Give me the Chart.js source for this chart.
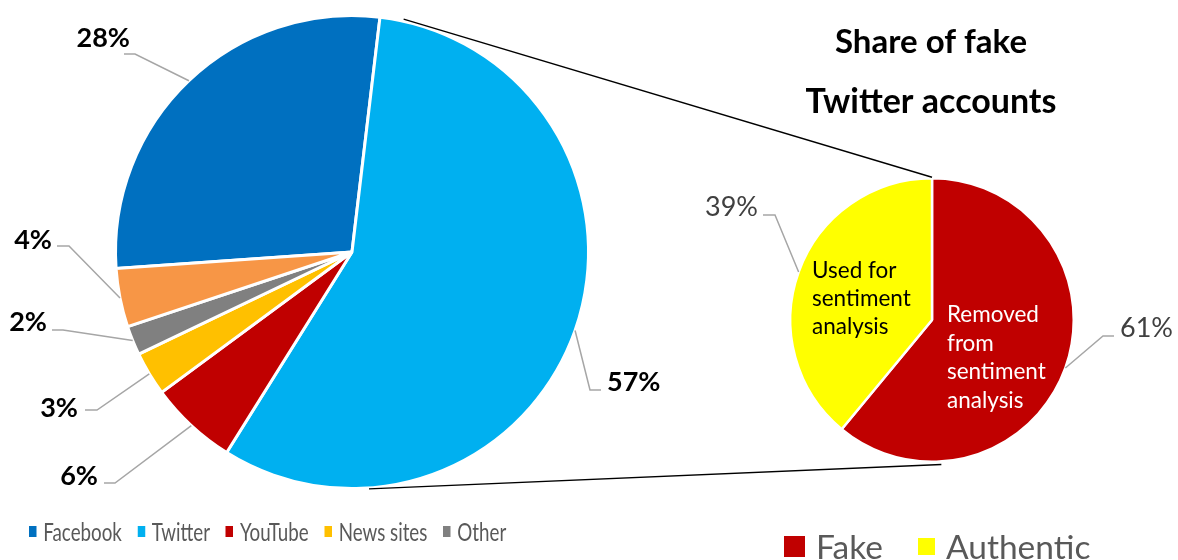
<!DOCTYPE html>
<html>
<head>
<meta charset="utf-8">
<script src="https://cdn.jsdelivr.net/npm/chart.js@4"></script>
<style>
  html, body { margin:0; padding:0; background:#fff; }
  #wrap { position:relative; width:1178px; height:560px; overflow:hidden; font-family:Lato, 'Open Sans', sans-serif; }
  #wrap canvas { position:absolute; left:0; top:0; }
  .legend { position:absolute; display:flex; align-items:center; color:#595959; white-space:nowrap; }
  .legend .sw { display:inline-block; flex:none; }
</style>
</head>
<body>
<div id="wrap">
  <canvas id="chart-platforms" width="1178" height="560"></canvas>
  <canvas id="chart-accounts" width="1178" height="560"></canvas>
  <div class="legend" id="legend-platforms" style="left:29px;top:515px;height:32px;font-size:25px;transform:scaleX(0.75);transform-origin:0 0"></div>
  <div class="legend" id="legend-accounts" style="left:784px;top:528px;height:36px;font-size:33.5px"></div>
</div>
<script>
// ---- data ----
const platforms = ['Facebook', 'Twitter', 'YouTube', 'News sites', 'Other', 'Blogs'];
const platformShare = [28, 57, 6, 3, 2, 4];
const platformColors = ['#0070c0', '#00b0f0', '#c00000', '#ffc000', '#808080', '#f79646'];
const platformLegend = ['Facebook', 'Twitter', 'YouTube', 'News sites', 'Other'];

const accountTypes = ['Fake', 'Authentic'];
const accountShare = [61, 39];
const accountColors = ['#c00000', '#ffff00'];
const accountNotes = [['Removed', 'from', 'sentiment', 'analysis'], ['Used for', 'sentiment', 'analysis']];
const titleLines = ['Share of fake', 'Twitter accounts'];

// ---- label placement (elbow ex/ey, line end hx, text lx/ly) ----
const platformLabelPos = [
  { ex:135, ey:54,  hx:124, lx:130, ly:38,  align:'right' },
  { ex:590, ey:390, hx:601, lx:607, ly:382, align:'left' },
  { ex:115, ey:483, hx:104, lx:98,  ly:476, align:'right' },
  { ex:97,  ey:410, hx:85,  lx:78,  ly:408, align:'right' },
  { ex:63,  ey:330, hx:52,  lx:47,  ly:322, align:'right' },
  { ex:69,  ey:246, hx:57,  lx:52,  ly:240, align:'right' },
];
const accountLabelPos = [
  { ex:1103, ey:336, hx:1114, lx:1120, ly:328, align:'left' },
  { ex:775,  ey:215, hx:763,  lx:758,  ly:207, align:'right' },
];
const notePos = [
  { x:947, y:322, lh:28.7, color:'#fff' },
  { x:812, y:278, lh:28,   color:'#000' },
];

function leaderLabels(id, layout, font, color) {
  return {
    id,
    afterDatasetsDraw(chart) {
      const ctx = chart.ctx;
      const arcs = chart.getDatasetMeta(0).data;
      const vals = chart.data.datasets[0].data;
      ctx.save();
      arcs.forEach((arc, i) => {
        const L = layout[i];
        const mid = (arc.startAngle + arc.endAngle) / 2;
        const sx = arc.x + Math.cos(mid) * arc.outerRadius;
        const sy = arc.y + Math.sin(mid) * arc.outerRadius;
        ctx.strokeStyle = '#a6a6a6';
        ctx.lineWidth = 1.5;
        ctx.beginPath();
        ctx.moveTo(sx, sy); ctx.lineTo(L.ex, L.ey); ctx.lineTo(L.hx, L.ey);
        ctx.stroke();
        ctx.font = font;
        ctx.fillStyle = color;
        ctx.textAlign = L.align;
        ctx.textBaseline = 'middle';
        ctx.fillText(vals[i] + '%', L.lx, L.ly);
      });
      ctx.restore();
    }
  };
}

const baseOpts = {
  responsive:false, animation:false, events:[],
  plugins:{ legend:{ display:false }, tooltip:{ enabled:false } }
};

const bigChart = new Chart(document.getElementById('chart-platforms'), {
  type:'pie',
  data:{ labels:platforms, datasets:[{ data:platformShare, backgroundColor:platformColors, borderColor:'#fff', borderWidth:3 }] },
  options:{ ...baseOpts, rotation:-94, layout:{ padding:{ left:114, right:588, top:14, bottom:70 } } },
  plugins:[leaderLabels('platformLabels', platformLabelPos, 'bold 27px Lato', '#000')]
});

// notes inside the small pie, title and the connector lines
const extras = {
  id:'extras',
  afterDraw(chart) {
    const ctx = chart.ctx;
    ctx.save();
    ctx.textAlign = 'left';
    ctx.textBaseline = 'alphabetic';
    ctx.font = '22.5px Lato';
    accountNotes.forEach((lines, i) => {
      const p = notePos[i];
      ctx.fillStyle = p.color;
      lines.forEach((t, j) => ctx.fillText(t, p.x, p.y + j * p.lh));
    });
    ctx.fillStyle = '#000';
    ctx.textAlign = 'center';
    ctx.font = 'bold 33px Lato';
    ctx.fillText(titleLines[0], 931, 53);
    ctx.font = 'bold 34px Lato';
    ctx.fillText(titleLines[1], 931, 113);

    const a = bigChart.getDatasetMeta(0).data[0];
    const b = chart.getDatasetMeta(0).data[0];
    const pt = (arc, deg, extra) => {
      const r = arc.outerRadius + extra, t = deg * Math.PI / 180;
      return [arc.x + r * Math.sin(t), arc.y - r * Math.cos(t)];
    };
    const links = [[pt(a, 12.5, 2), pt(b, 0, 1)], [pt(a, 175.9, 1), pt(b, 176.3, 3)]];
    ctx.strokeStyle = '#000';
    ctx.lineWidth = 1.4;
    links.forEach(([p, q]) => {
      ctx.beginPath(); ctx.moveTo(p[0], p[1]); ctx.lineTo(q[0], q[1]); ctx.stroke();
    });
    ctx.restore();
  }
};

new Chart(document.getElementById('chart-accounts'), {
  type:'pie',
  data:{ labels:accountTypes, datasets:[{ data:accountShare, backgroundColor:accountColors, borderColor:'#fff', borderWidth:2.5 }] },
  options:{ ...baseOpts, rotation:0, layout:{ padding:{ left:789, right:103, top:177, bottom:97 } } },
  plugins:[leaderLabels('accountLabels', accountLabelPos, '27px Lato', '#404040'), extras]
});

// html legends
function buildLegend(el, names, colors, sw, gapIn, gapOut) {
  el.innerHTML = names.map((n, i) =>
    `<span class="sw" style="width:${sw[i][0]}px;height:${sw[i][1]}px;background:${colors[i]};margin-right:${gapIn}px"></span>` +
    `<span style="margin-right:${gapOut}px">${n}</span>`).join('');
}
buildLegend(document.getElementById('legend-platforms'), platformLegend, platformColors,
  platformLegend.map(() => [10, 11]), 9, 21);
buildLegend(document.getElementById('legend-accounts'), accountTypes, accountColors, [[21, 21], [17, 17]], 11, 35);
</script>
</body>
</html>
